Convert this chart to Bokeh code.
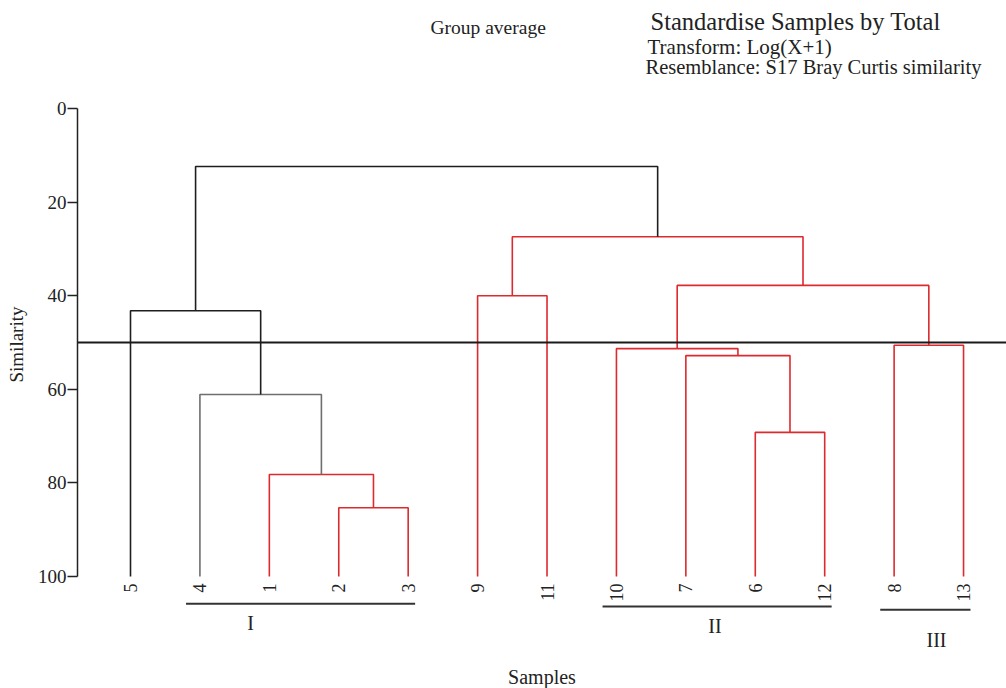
import math
from bokeh.plotting import figure
from bokeh.models import Range1d, FixedTicker, Span, Label, ColumnDataSource
from bokeh.core.properties import value
from bokeh.embed import file_html
from bokeh.resources import INLINE

# ---------------- data ----------------
leaf_labels = ["5", "4", "1", "2", "3", "9", "11", "10", "7", "6", "12", "8", "13"]

# merges: (left child, right child, similarity); children are leaf labels or "m<k>"
merge_left = ["2", "1", "4", "5", "6", "7", "10", "8", "m6", "9", "m9", "m3"]
merge_right = ["3", "m0", "m1", "m2", "12", "m4", "m5", "13", "m7", "11", "m8", "m10"]
merge_sim = [85.3, 78.2, 61.1, 43.2, 69.2, 52.8, 51.3, 50.6, 37.8, 40.0, 27.4, 12.4]
merge_group = ["red", "red", "grey", "black", "red", "red", "red", "red", "red", "red", "red", "black"]

cut_level = 50
y_ticks = [0, 20, 40, 60, 80, 100]

group_names = ["I", "II", "III"]
group_first = ["4", "10", "8"]
group_last = ["3", "12", "13"]

title_main = "Group average"
title_lines = ["Standardise Samples by Total", "Transform: Log(X+1)",
               "Resemblance: S17 Bray Curtis similarity"]

# ---------------- styles ----------------
SERIF = "Liberation Serif"
colors = {"red": "#dd2a2e", "grey": "#6e6e6e", "black": "#1e1e1e"}
group_bar_level = [105.8, 106.4, 107.1]
group_label_level = [110.0, 110.6, 113.6]
group_label_shift = [-0.72, -0.03, 0.16]

W, H = 1006, 688
frame_left = 77
px0, dx = 130.0, 69.42        # canvas x of first leaf, leaf spacing
py0, dy = 108.0, 4.68         # canvas y of similarity 0, px per unit

x_start = (frame_left - px0) / dx
x_end = (W - px0) / dx
y_top = (0 - py0) / dy
y_bot = (H - py0) / dy

def cx(px):
    return (px - px0) / dx

def cy(py):
    return (py - py0) / dy

p = figure(width=W, height=H, output_backend="svg", toolbar_location=None,
           x_range=Range1d(x_start, x_end), y_range=Range1d(y_bot, y_top),
           x_axis_location=None, y_axis_location="left",
           min_border_left=frame_left, min_border_right=0,
           min_border_top=0, min_border_bottom=0)
p.outline_line_color = None
p.grid.visible = False
p.background_fill_color = "white"
p.border_fill_color = "white"

ax = p.yaxis[0]
ax.bounds = (0, 100)
ax.ticker = FixedTicker(ticks=y_ticks)
ax.minor_tick_line_color = None
ax.major_tick_in = 0
ax.major_tick_out = 10
ax.major_tick_line_width = 1.3
ax.axis_line_width = 1.5
ax.axis_line_color = "#222222"
ax.major_tick_line_color = "#222222"
ax.major_label_text_font = SERIF
ax.major_label_text_font_size = "19px"
ax.major_label_text_color = "#222222"
ax.major_label_standoff = 1
ax.axis_label = "Similarity"
ax.axis_label_text_font = SERIF
ax.axis_label_text_font_size = "19px"
ax.axis_label_text_font_style = "normal"
ax.axis_label_text_color = "#222222"
ax.axis_label_standoff = 8

# ---------------- dendrogram geometry from linkage ----------------
pos = {lab: (float(i), 100.0) for i, lab in enumerate(leaf_labels)}
xs, ys, cs = [], [], []
for k, (a, b, s) in enumerate(zip(merge_left, merge_right, merge_sim)):
    xa, ya = pos[a]
    xb, yb = pos[b]
    xs.append([xa, xa, xb, xb])
    ys.append([ya, s, s, yb])
    cs.append(colors[merge_group[k]])
    pos["m%d" % k] = ((xa + xb) / 2.0, s)

p.multi_line(xs="xs", ys="ys", line_color="c", line_width=1.6,
             source=ColumnDataSource(dict(xs=xs, ys=ys, c=cs)))

p.add_layout(Span(location=cut_level, dimension="width", line_color="#1a1a1a", line_width=2))

# leaf labels
p.text(x=list(range(len(leaf_labels))), y=[101.5] * len(leaf_labels), text=leaf_labels,
       angle=math.pi / 2, text_align="right", text_baseline="middle",
       text_font=value(SERIF), text_font_size="18px", text_color="#222222")

# groups
idx = {lab: i for i, lab in enumerate(leaf_labels)}
gx0 = [idx[f] - 0.2 for f in group_first]
gx1 = [idx[l] + 0.1 for l in group_last]
p.segment(x0=gx0, y0=group_bar_level, x1=gx1, y1=group_bar_level,
          line_color="#333333", line_width=2)
glx = [(a + b) / 2 + sh for a, b, sh in zip(gx0, gx1, group_label_shift)]
p.text(x=glx, y=group_label_level, text=group_names, text_align="center",
       text_baseline="middle", text_font=value(SERIF), text_font_size="20px",
       text_color="#222222")

# x label
p.text(x=[(x_start + x_end) / 2], y=[121.4], text=["Samples"], text_align="center",
       text_baseline="middle", text_font=value(SERIF), text_font_size="20px",
       text_color="#222222")

# titles
p.add_layout(Label(x=cx(430), y=cy(27), text=title_main,
                   text_font=SERIF, text_font_size="19.5px", text_color="#222222",
                   text_baseline="alphabetic"))
t_x = [cx(650), cx(647), cx(645)]
t_y = [cy(21), cy(46), cy(66)]
t_size = ["24.5px", "21px", "20.5px"]
for tx, ty, tt, ts in zip(t_x, t_y, title_lines, t_size):
    p.add_layout(Label(x=tx, y=ty, text=tt, text_font=SERIF, text_font_size=ts,
                       text_color="#222222", text_baseline="alphabetic"))

open("out.html", "w").write(file_html(p, INLINE))
